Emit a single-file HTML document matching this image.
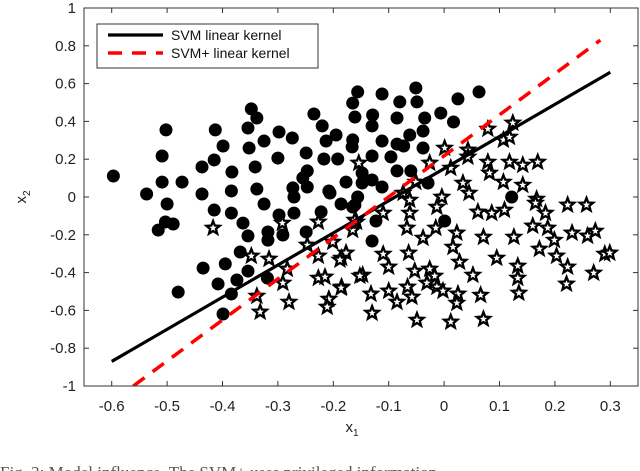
<!DOCTYPE html>
<html><head><meta charset="utf-8"><style>
html,body{margin:0;padding:0;background:#fff;width:640px;height:471px;overflow:hidden}
svg{display:block;font-family:"Liberation Sans",sans-serif}
</style></head><body>
<svg id="chart" width="640" height="471"></svg>
<script>
const xTicks=[-0.6,-0.5,-0.4,-0.3,-0.2,-0.1,0,0.1,0.2,0.3];
const yTicks=[1,0.8,0.6,0.4,0.2,0,-0.2,-0.4,-0.6,-0.8,-1];
const dotX=[-0.597,-0.537,-0.509,-0.502,-0.509,-0.473,-0.437,-0.415,-0.413,-0.399,-0.383,-0.437,-0.384,-0.348,-0.338,-0.354,-0.352,-0.325,-0.341,-0.298,-0.274,-0.300,-0.249,-0.247,-0.255,-0.235,-0.220,-0.213,-0.217,-0.195,-0.192,-0.177,-0.156,-0.165,-0.161,-0.165,-0.166,-0.208,-0.247,-0.273,-0.338,-0.500,-0.516,-0.503,-0.489,-0.415,-0.384,-0.363,-0.354,-0.368,-0.395,-0.435,-0.354,-0.374,-0.408,-0.480,-0.384,-0.399,-0.325,-0.298,-0.291,-0.318,-0.318,-0.319,-0.271,-0.271,-0.222,-0.249,-0.206,-0.186,-0.165,-0.156,-0.112,-0.129,-0.130,-0.080,-0.051,-0.049,-0.085,-0.035,-0.006,0.025,0.017,0.063,-0.112,-0.085,-0.073,-0.062,-0.038,-0.038,-0.130,-0.096,-0.085,-0.060,-0.148,-0.148,-0.130,-0.112,-0.029,0.122,0.001,-0.130,-0.123,-0.161];
const dotY=[0.111,0.016,0.217,0.355,0.079,0.079,0.159,0.196,0.355,0.270,0.132,0.016,0.032,0.466,0.418,0.365,0.259,0.296,0.159,0.344,0.312,0.206,0.233,0.138,0.101,0.439,0.376,0.296,0.201,0.328,0.201,0.079,0.556,0.497,0.423,0.302,0.265,0.032,0.053,0.048,0.042,-0.037,-0.175,-0.132,-0.143,-0.069,-0.085,-0.138,-0.206,-0.291,-0.354,-0.376,-0.392,-0.439,-0.460,-0.503,-0.513,-0.619,-0.037,-0.095,-0.201,-0.185,-0.228,-0.429,-0.085,0,-0.079,-0.185,0.021,-0.037,-0.053,0,0.545,0.434,0.376,0.503,0.577,0.503,0.418,0.418,0.444,0.519,0.397,0.556,0.296,0.280,0.270,0.328,0.349,0.259,0.217,0.212,0.138,0.138,0.127,0.074,0.090,0.053,0.074,0,-0.127,-0.233,-0.127,-0.042];
const starX=[-0.154,0.001,-0.026,0.012,0.043,0.043,0.079,0.107,0.118,0.124,0.079,0.082,0.118,0.142,0.169,0.107,0.142,0.034,0.045,-0.051,-0.074,-0.004,0.167,0.165,0.223,0.257,-0.062,-0.062,-0.110,-0.013,0.061,0.086,0.109,0.183,0.160,0.187,-0.067,-0.015,-0.165,0.023,0.071,0.126,0.199,0.231,0.259,0.273,-0.038,0.016,0.172,-0.177,-0.185,-0.110,-0.064,0.028,0.095,0.203,0.290,0.299,-0.100,-0.053,-0.026,-0.147,-0.017,0.052,0.133,0.133,0.223,0.270,-0.031,-0.013,-0.002,-0.185,-0.132,-0.100,-0.066,-0.085,-0.058,0.025,0.023,0.066,0.135,0.221,-0.130,-0.049,0.012,0.071,-0.417,-0.348,-0.316,-0.292,-0.227,-0.283,-0.291,-0.338,-0.332,-0.280,-0.247,-0.227,-0.201,-0.188,-0.227,-0.215,-0.186,-0.208,-0.211,-0.158,-0.152,-0.161];
const starY=[0.180,0.259,0.180,0.153,0.249,0.212,0.360,0.302,0.317,0.392,0.185,0.127,0.185,0.169,0.185,0.079,0.063,0.074,0.021,0.079,0.021,0,-0.011,-0.032,-0.042,-0.042,-0.016,-0.085,-0.085,-0.053,-0.079,-0.085,-0.069,-0.085,-0.153,-0.164,-0.164,-0.164,-0.175,-0.190,-0.212,-0.212,-0.228,-0.190,-0.206,-0.180,-0.217,-0.265,-0.275,-0.296,-0.323,-0.302,-0.296,-0.344,-0.323,-0.312,-0.302,-0.296,-0.370,-0.392,-0.381,-0.413,-0.418,-0.413,-0.365,-0.429,-0.370,-0.402,-0.455,-0.476,-0.497,-0.476,-0.513,-0.497,-0.476,-0.556,-0.529,-0.513,-0.561,-0.519,-0.508,-0.460,-0.614,-0.651,-0.661,-0.646,-0.164,-0.312,-0.328,-0.138,-0.132,-0.381,-0.455,-0.524,-0.608,-0.556,-0.254,-0.312,-0.238,-0.333,-0.429,-0.423,-0.481,-0.540,-0.582,-0.132,-0.418,-0.122];
const svmLine=[[-0.6,-0.87],[0.3,0.66]];
const svmPlusLine=[[-0.561,-1],[0.282,0.83]];

const X0=-0.65,X1=0.35,Y0=-1,Y1=1;
const L=84,R=638,T=8,B=386;
const sx=v=>L+(v-X0)/(X1-X0)*(R-L);
const sy=v=>B-(v-Y0)/(Y1-Y0)*(B-T);
const NS="http://www.w3.org/2000/svg";
const svg=document.getElementById('chart');
function mk(tag,attrs,parent){const e=document.createElementNS(NS,tag);for(const k in attrs)e.setAttribute(k,attrs[k]);(parent||svg).appendChild(e);return e;}

const clipDef=mk('defs',{});const cp=mk('clipPath',{id:'pc'},clipDef);mk('rect',{x:L,y:T,width:R-L,height:B-T},cp);
const plot=mk('g',{'clip-path':'url(#pc)'});



for(let i=0;i<dotX.length;i++){
  const c=mk('circle',{cx:sx(dotX[i]),cy:sy(dotY[i]),r:6.5,fill:'#000'},plot);
  
  
}
function starPath(cx,cy,ro,ri){let d='';for(let k=0;k<10;k++){const r=k%2?ri:ro;const a=-Math.PI/2+k*Math.PI/5;d+=(k?'L':'M')+(cx+r*Math.cos(a)).toFixed(2)+','+(cy+r*Math.sin(a)).toFixed(2);}return d+'Z';}
for(let i=0;i<starX.length;i++){
  const s=mk('path',{d:starPath(sx(starX[i]),sy(starY[i]),7,3),fill:'#fff',stroke:'#000','stroke-width':2.3,'stroke-linejoin':'miter'},plot);
  
  
}
const l1=mk('line',{x1:sx(svmLine[0][0]),y1:sy(svmLine[0][1]),x2:sx(svmLine[1][0]),y2:sy(svmLine[1][1]),stroke:'#000','stroke-width':3.2},plot);


const l2=mk('line',{x1:sx(svmPlusLine[0][0]),y1:sy(svmPlusLine[0][1]),x2:sx(svmPlusLine[1][0]),y2:sy(svmPlusLine[1][1]),stroke:'#f00','stroke-width':3.5,'stroke-dasharray':'14 10'},plot);



const frame=mk('rect',{x:L,y:T,width:R-L,height:B-T,fill:'none',stroke:'#333','stroke-width':1});


xTicks.forEach(v=>{
  const x=sx(v);
  mk('line',{x1:x,y1:B,x2:x,y2:B-5,stroke:'#333'});
  mk('line',{x1:x,y1:T,x2:x,y2:T+5,stroke:'#333'});
  const t=mk('text',{x:x,y:B+25,'text-anchor':'middle','font-size':15,fill:'#222'});
  t.textContent=(v<0?'-':'')+String(Math.abs(v));
  
  
});
yTicks.forEach(v=>{
  const y=sy(v);
  mk('line',{x1:L,y1:y,x2:L+5,y2:y,stroke:'#333'});
  mk('line',{x1:R,y1:y,x2:R-5,y2:y,stroke:'#333'});
  const t=mk('text',{x:L-8,y:y+5,'text-anchor':'end','font-size':15,fill:'#222'});
  t.textContent=String(v);
  
  
});
</script>
<svg style="position:absolute;left:0;top:0" width="640" height="471">
  <g>
    <rect x="97" y="24" width="221" height="44" fill="#fff" stroke="#333" stroke-width="1"/>
    <line x1="108" y1="35" x2="163" y2="35" stroke="#000" stroke-width="3.2"/>
    <text x="171" y="40" font-size="14" fill="#111" font-family="Liberation Sans, sans-serif">SVM linear kernel</text>
    <line x1="108" y1="53" x2="163" y2="53" stroke="#f00" stroke-width="3.5" stroke-dasharray="14 10"/>
    <text x="171" y="58" font-size="14" fill="#111" font-family="Liberation Sans, sans-serif">SVM+ linear kernel</text>
  </g>
  <text x="352" y="432" font-size="15" fill="#222" text-anchor="middle" font-family="Liberation Sans, sans-serif">x<tspan font-size="10" dy="4">1</tspan></text>
  <text transform="translate(26,197) rotate(-90)" font-size="15" fill="#222" text-anchor="middle" font-family="Liberation Sans, sans-serif">x<tspan font-size="10" dy="4">2</tspan></text>
  <text x="0" y="478" font-size="17" fill="#555" font-family="Liberation Serif, serif">Fig. 3: Model influence. The SVM+ uses privileged information</text>
</svg>
</body></html>
